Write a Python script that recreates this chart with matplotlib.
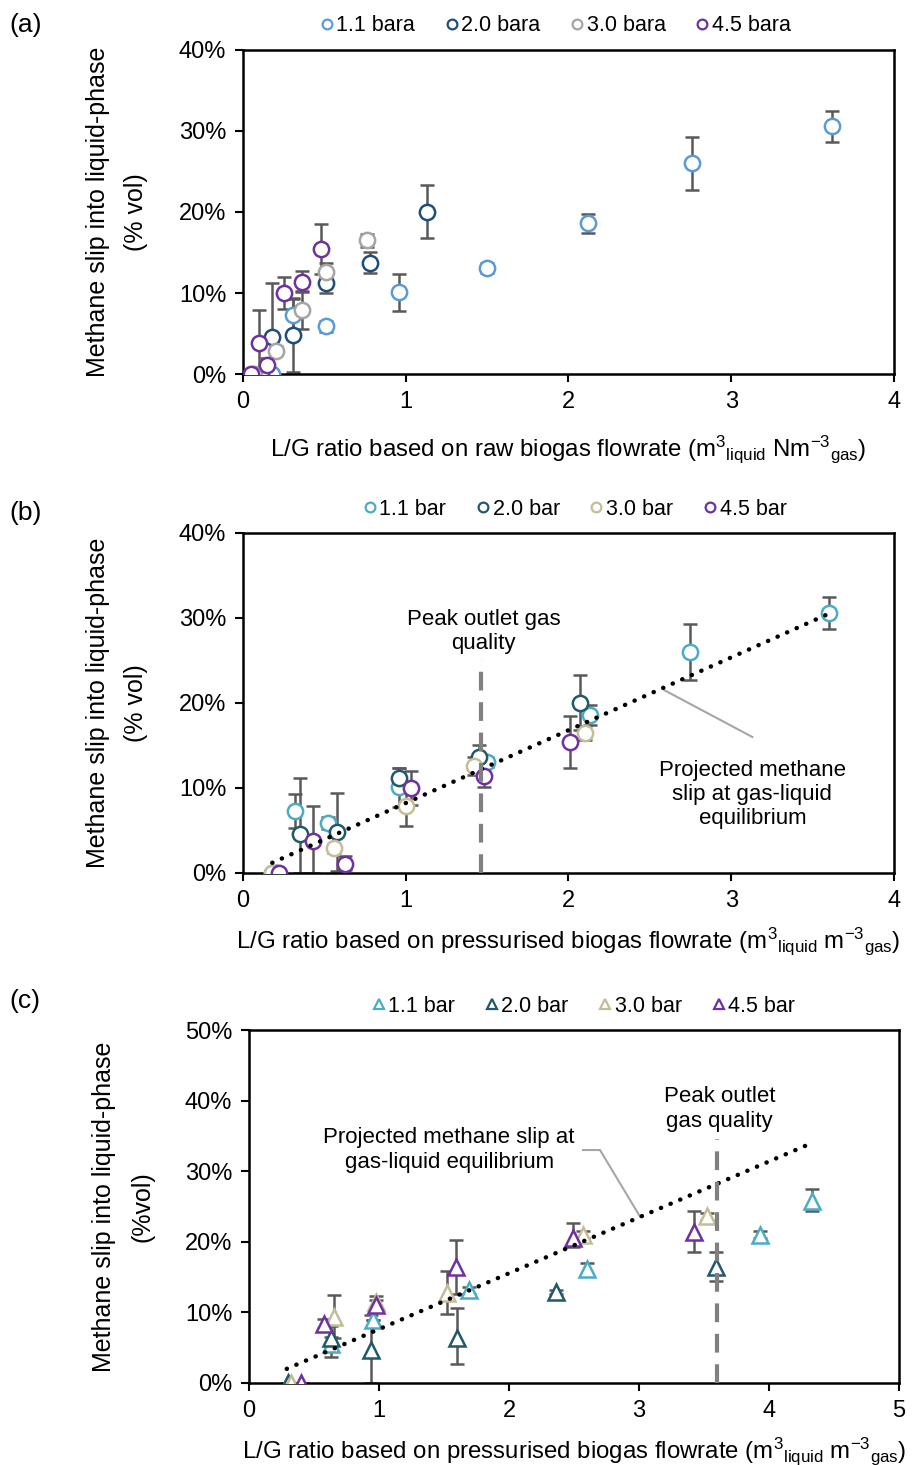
import numpy as np
import matplotlib
matplotlib.use('Agg')
import matplotlib.pyplot as plt
from matplotlib.ticker import PercentFormatter, MultipleLocator

plt.rcParams['font.family'] = ['Liberation Sans', 'DejaVu Sans']
plt.rcParams['mathtext.fontset'] = 'custom'
plt.rcParams['mathtext.rm'] = 'Liberation Sans'
plt.rcParams['mathtext.it'] = 'Liberation Sans'

# ---- panel (a)/(b): methane slip (%) with lower/upper error bounds ----
labels_a = ['1.1 bara', '2.0 bara', '3.0 bara', '4.5 bara']
labels_bc = ['1.1 bar', '2.0 bar', '3.0 bar', '4.5 bar']

# raw biogas L/G (panel a)
xa_11 = [0.18, 0.31, 0.51, 0.96, 1.50, 2.12, 2.76, 3.62]
xa_20 = [0.11, 0.18, 0.31, 0.51, 0.78, 1.13]
xa_30 = [0.065, 0.20, 0.36, 0.51, 0.76]
xa_45 = [0.05, 0.10, 0.15, 0.25, 0.36, 0.48]
# pressurised biogas L/G (panel b)
xb_11 = [0.18, 0.32, 0.52, 0.96, 1.50, 2.13, 2.75, 3.60]
xb_20 = [0.20, 0.35, 0.58, 0.96, 1.45, 2.07]
xb_30 = [0.18, 0.56, 1.00, 1.42, 2.10]
xb_45 = [0.22, 0.43, 0.63, 1.03, 1.48, 2.01]

y_11 = [0.0, 7.3, 5.9, 10.1, 13.1, 18.6, 26.0, 30.6]
lo_11 = [0.0, 5.3, 5.2, 7.8, 12.5, 17.4, 22.7, 28.7]
hi_11 = [0.0, 9.3, 6.6, 12.4, 13.7, 19.8, 29.3, 32.5]
y_20 = [0.0, 4.6, 4.8, 11.2, 13.7, 20.0]
lo_20 = [0.0, 0.0, 0.2, 10.0, 12.5, 16.8]
hi_20 = [0.0, 11.2, 9.4, 12.4, 15.0, 23.3]
y_30 = [0.0, 2.9, 7.9, 12.6, 16.5]
lo_30 = [0.0, 2.4, 5.5, 11.5, 15.7]
hi_30 = [0.0, 3.4, 10.3, 13.7, 17.3]
y_45 = [0.0, 3.8, 1.1, 10.0, 11.4, 15.4]
lo_45 = [0.0, 0.0, 0.3, 8.0, 10.1, 12.4]
hi_45 = [0.0, 7.9, 2.0, 12.0, 12.7, 18.5]

# projected equilibrium line (panel b) and peak quality
eq_b_x = [0.18, 3.60]
eq_b_y = [1.2, 30.5]
peak_b = 1.46

# ---- panel (c) ----
xc_11 = [0.30, 0.63, 0.95, 1.69, 2.60, 3.93, 4.33]
yc_11 = [0.0, 5.5, 8.9, 13.1, 16.2, 21.0, 25.8]
loc_11 = [0.0, 4.5, 8.9, 12.6, 15.4, 20.5, 24.4]
hic_11 = [0.0, 6.5, 8.9, 13.6, 17.0, 21.5, 27.5]
xc_20 = [0.30, 0.63, 0.94, 1.60, 2.36, 3.59]
yc_20 = [0.0, 6.3, 4.6, 6.4, 12.9, 16.4]
loc_20 = [0.0, 3.7, 0.0, 2.7, 12.6, 14.4]
hic_20 = [0.0, 8.0, 9.6, 10.6, 13.2, 18.5]
xc_30 = [0.32, 0.65, 0.98, 1.52, 2.57, 3.52]
yc_30 = [0.0, 9.3, 11.4, 12.8, 21.0, 23.6]
loc_30 = [0.0, 6.3, 10.5, 9.7, 20.5, 23.1]
hic_30 = [0.0, 12.5, 12.3, 15.9, 21.5, 24.1]
xc_45 = [0.40, 0.58, 0.98, 1.59, 2.49, 3.42]
yc_45 = [0.0, 8.4, 11.1, 16.4, 20.6, 21.4]
loc_45 = [0.0, 7.8, 10.4, 12.6, 19.3, 18.6]
hic_45 = [0.0, 9.0, 11.8, 20.2, 22.6, 24.4]

eq_c_x = [0.29, 4.28]
eq_c_y = [2.0, 33.6]
peak_c = 3.60

cols_a = ['#5B9BD5', '#1F4E79', '#A5A5A5', '#7030A0']
cols_bc = ['#4BACC6', '#215968', '#C4BD97', '#7030A0']
ecol = '#595959'

fig = plt.figure(figsize=(9.21, 14.65), dpi=100)
ax_a = fig.add_axes([0.2638, 0.7447, 0.7068, 0.2212])
ax_b = fig.add_axes([0.2638, 0.4041, 0.7068, 0.2321])
ax_c = fig.add_axes([0.2704, 0.0560, 0.7057, 0.2409])


def draw_series(ax, x, y, lo, hi, col, lab, marker):
    y = np.array(y)
    err = [y - np.array(lo), np.array(hi) - y]
    ax.errorbar(x, y, yerr=err, fmt='none', ecolor=ecol, elinewidth=1.8,
                capsize=5, capthick=1.8, zorder=2)
    ax.plot(x, y, linestyle='none', marker=marker, ms=11 if marker == 'o' else 12,
            mfc='white', mec=col, mew=1.8, zorder=3)
    # small marker proxy for the legend
    ax.plot([], [], linestyle='none', marker=marker, ms=7, mfc='white',
            mec=col, mew=1.6, label=lab)


def style_axes(ax, xmax, ymax):
    ax.set_xlim(0, xmax)
    ax.set_ylim(0, ymax)
    ax.xaxis.set_major_locator(MultipleLocator(1))
    ax.yaxis.set_major_locator(MultipleLocator(10))
    ax.yaxis.set_major_formatter(PercentFormatter(100, decimals=0))
    ax.tick_params(direction='out', length=6, width=1.5, labelsize=17, pad=6)
    for s in ax.spines.values():
        s.set_linewidth(1.8)
        s.set_color('black')


def add_legend(ax, x_anchor, y_anchor):
    ax.legend(loc='center', bbox_to_anchor=(x_anchor, y_anchor), ncol=4,
              frameon=False, fontsize=15.5, handlelength=0.6, handletextpad=0.15,
              columnspacing=1.4, borderpad=0)


xlab_raw = 'L/G ratio based on raw biogas flowrate (m$^3$$_{\\mathrm{liquid}}$ Nm$^{\\mathrm{-3}}$$_{\\mathrm{gas}}$)'
xlab_pr = 'L/G ratio based on pressurised biogas flowrate (m$^3$$_{\\mathrm{liquid}}$ m$^{\\mathrm{-3}}$$_{\\mathrm{gas}}$)'

# panel (a)
series_a = [(xa_11, y_11, lo_11, hi_11), (xa_20, y_20, lo_20, hi_20),
            (xa_30, y_30, lo_30, hi_30), (xa_45, y_45, lo_45, hi_45)]
for (x, y, lo, hi), c, lab in zip(series_a, cols_a, labels_a):
    draw_series(ax_a, x, y, lo, hi, c, lab, 'o')
style_axes(ax_a, 4, 40)
ax_a.set_xlabel(xlab_raw, fontsize=17.3, labelpad=15)
ax_a.set_ylabel('Methane slip into liquid-phase\n(% vol)', fontsize=18, linespacing=1.75, labelpad=22)
add_legend(ax_a, 0.48, 1.075)

# panel (b)
series_b = [(xb_11, y_11, lo_11, hi_11), (xb_20, y_20, lo_20, hi_20),
            (xb_30, y_30, lo_30, hi_30), (xb_45, y_45, lo_45, hi_45)]
for (x, y, lo, hi), c, lab in zip(series_b, cols_bc, labels_bc):
    draw_series(ax_b, x, y, lo, hi, c, lab, 'o')
ax_b.plot(eq_b_x, eq_b_y, color='black', linestyle=(0, (0.05, 2.3)), lw=3.2,
          dash_capstyle='round', zorder=4)
ax_b.plot([peak_b, peak_b], [0, 25], color='#808080', lw=3, linestyle=(0, (4.5, 2.8)), zorder=4)
ax_b.text(1.48, 28.4, 'Peak outlet gas\nquality', ha='center', va='center', fontsize=16, linespacing=1.2)
ax_b.text(3.13, 9.2, 'Projected methane\nslip at gas-liquid\nequilibrium', ha='center', va='center',
          fontsize=16, linespacing=1.2)
ax_b.plot([3.13, 2.59], [16.0, 21.5], color='#A6A6A6', lw=1.5, zorder=1)
style_axes(ax_b, 4, 40)
ax_b.set_xlabel(xlab_pr, fontsize=17.3, labelpad=10)
ax_b.set_ylabel('Methane slip into liquid-phase\n(% vol)', fontsize=18, linespacing=1.75, labelpad=22)
add_legend(ax_b, 0.51, 1.07)

# panel (c)
series_c = [(xc_11, yc_11, loc_11, hic_11), (xc_20, yc_20, loc_20, hic_20),
            (xc_30, yc_30, loc_30, hic_30), (xc_45, yc_45, loc_45, hic_45)]
for (x, y, lo, hi), c, lab in zip(series_c, cols_bc, labels_bc):
    draw_series(ax_c, x, y, lo, hi, c, lab, '^')
ax_c.plot(eq_c_x, eq_c_y, color='black', linestyle=(0, (0.05, 2.3)), lw=3.2,
          dash_capstyle='round', zorder=4)
ax_c.plot([peak_c, peak_c], [0, 34.5], color='#808080', lw=3, linestyle=(0, (4.5, 2.8)), zorder=4)
ax_c.text(3.62, 38.8, 'Peak outlet\ngas quality', ha='center', va='center', fontsize=16, linespacing=1.2)
ax_c.text(1.54, 33.0, 'Projected methane slip at\ngas-liquid equilibrium', ha='center', va='center',
          fontsize=16, linespacing=1.2)
ax_c.plot([2.57, 2.70, 3.01], [33.0, 33.0, 23.5], color='#A6A6A6', lw=1.5, zorder=1)
style_axes(ax_c, 5, 50)
ax_c.set_xlabel(xlab_pr, fontsize=17.3, labelpad=10)
ax_c.set_ylabel('Methane slip into liquid-phase\n(%vol)', fontsize=18, linespacing=1.75, labelpad=22)
add_legend(ax_c, 0.515, 1.068)

fig.text(0.010, 0.983, '(a)', fontsize=19, va='center')
fig.text(0.010, 0.650, '(b)', fontsize=19, va='center')
fig.text(0.010, 0.317, '(c)', fontsize=19, va='center')

fig.savefig('out.png', dpi=100)
